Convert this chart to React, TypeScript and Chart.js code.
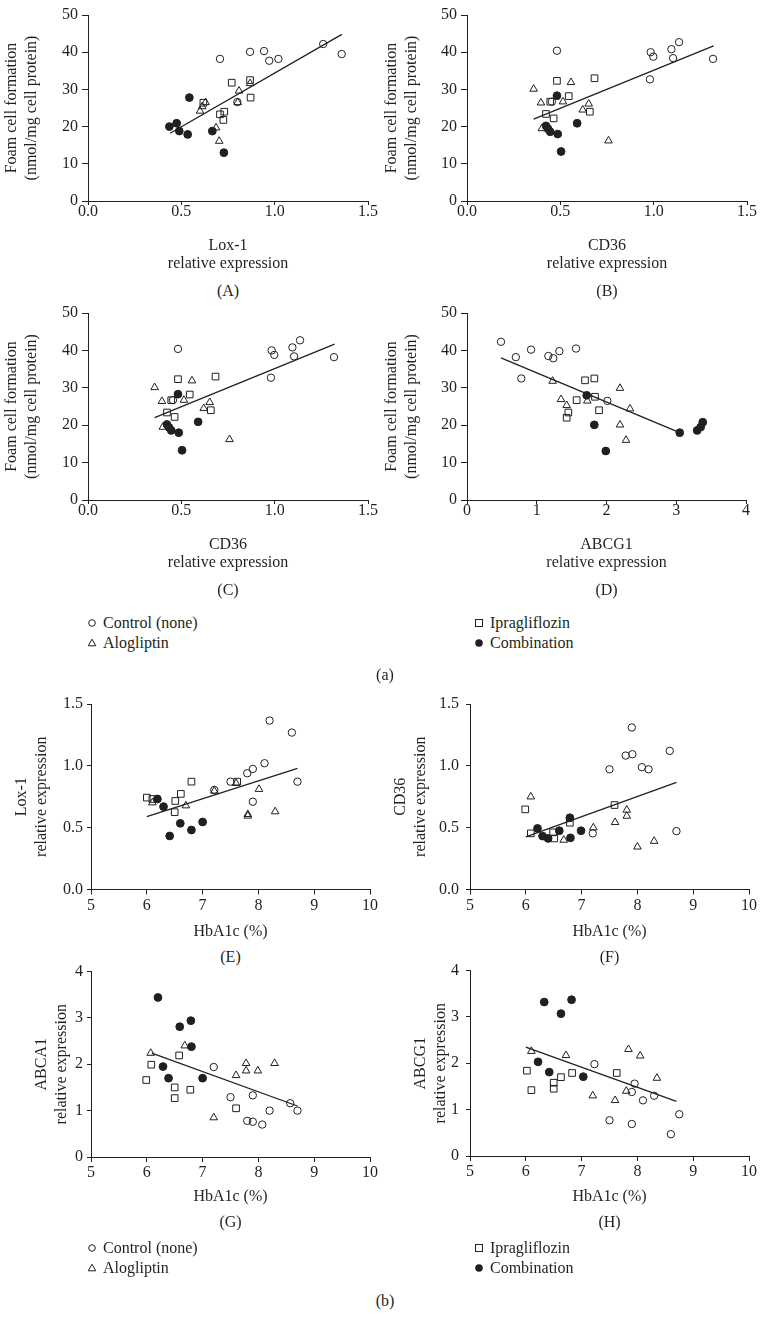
import React, { useEffect, useRef } from "react";
import { Chart, registerables } from "chart.js";
Chart.register(...registerables);

const FONT = "'Liberation Serif', 'Times New Roman', serif";
const INK = "#231f20";

type P = [number, number];

// ---- (A) Lox-1 vs foam cell formation
const ctrlA: P[] = [[0.707, 38.2], [0.868, 40.1], [0.943, 40.3], [0.971, 37.7], [1.02, 38.2], [1.26, 42.2], [1.359, 39.5], [0.80, 26.6]];
const ipraA: P[] = [[0.77, 31.8], [0.868, 32.5], [0.871, 27.8], [0.618, 26.4], [0.707, 23.3], [0.73, 24.0], [0.725, 21.8]];
const aloA: P[] = [[0.6, 24.2], [0.612, 25.4], [0.63, 26.5], [0.809, 29.6], [0.802, 26.5], [0.868, 31.6], [0.686, 19.7], [0.703, 16.1]];
const combA: P[] = [[0.436, 20.0], [0.475, 20.9], [0.489, 18.8], [0.543, 27.8], [0.534, 17.9], [0.666, 18.8], [0.728, 13.0]];
const lineA: P[] = [[0.44, 18.2], [1.36, 44.8]];

// ---- (B) and (C) CD36 vs foam cell formation
const ctrlB: P[] = [[0.482, 40.4], [0.984, 40.0], [0.998, 38.8], [0.98, 32.7], [1.095, 40.8], [1.136, 42.7], [1.104, 38.4], [1.318, 38.2], [0.455, 26.7]];
const ipraB: P[] = [[0.482, 32.3], [0.683, 33.0], [0.545, 28.2], [0.446, 26.7], [0.423, 23.4], [0.464, 22.2], [0.658, 24.0]];
const aloB: P[] = [[0.357, 30.1], [0.557, 31.9], [0.396, 26.4], [0.514, 26.7], [0.652, 26.1], [0.62, 24.5], [0.401, 19.5], [0.758, 16.2]];
const combB: P[] = [[0.482, 28.3], [0.423, 20.2], [0.434, 19.4], [0.446, 18.6], [0.486, 18.0], [0.59, 20.9], [0.504, 13.3]];
const lineB: P[] = [[0.357, 22.0], [1.321, 41.7]];

// ---- (D) ABCG1 vs foam cell formation
const ctrlD: P[] = [[0.487, 42.3], [0.70, 38.2], [0.779, 32.5], [0.918, 40.2], [1.166, 38.5], [1.237, 37.9], [1.324, 39.8], [1.563, 40.5], [2.012, 26.5]];
const ipraD: P[] = [[1.692, 32.0], [1.826, 32.5], [1.572, 26.7], [1.835, 27.6], [1.453, 23.4], [1.429, 22.0], [1.893, 24.0]];
const aloD: P[] = [[1.228, 31.8], [2.193, 29.9], [1.348, 26.9], [1.429, 25.3], [1.725, 26.5], [2.337, 24.4], [2.193, 20.1], [2.28, 16.0]];
const combD: P[] = [[1.716, 28.0], [1.825, 20.1], [1.99, 13.1], [3.05, 18.0], [3.3, 18.6], [3.35, 19.5], [3.38, 20.8]];
const lineD: P[] = [[0.487, 38.0], [3.05, 18.0]];

// ---- (E) HbA1c vs Lox-1
const ctrlE: P[] = [[8.2, 1.366], [8.6, 1.269], [8.11, 1.021], [7.9, 0.975], [7.8, 0.94], [7.5, 0.872], [8.7, 0.872], [7.9, 0.71], [7.21, 0.805]];
const ipraE: P[] = [[6.0, 0.743], [6.1, 0.732], [6.8, 0.872], [6.61, 0.773], [6.51, 0.716], [6.5, 0.625], [7.62, 0.872]];
const aloE: P[] = [[6.1, 0.702], [6.7, 0.678], [7.21, 0.797], [7.6, 0.859], [8.01, 0.811], [7.81, 0.608], [7.81, 0.595], [8.3, 0.63]];
const combE: P[] = [[6.19, 0.732], [6.3, 0.67], [6.41, 0.433], [6.6, 0.535], [6.8, 0.481], [7.0, 0.546]];
const lineE: P[] = [[6.0, 0.589], [8.7, 0.98]];

// ---- (F) HbA1c vs CD36
const ctrlF: P[] = [[7.9, 1.31], [7.79, 1.083], [7.91, 1.094], [8.58, 1.121], [7.5, 0.972], [8.08, 0.989], [8.2, 0.972], [8.7, 0.472], [7.2, 0.454]];
const ipraF: P[] = [[5.99, 0.648], [6.09, 0.454], [6.49, 0.462], [6.51, 0.413], [6.79, 0.54], [7.59, 0.683]];
const aloF: P[] = [[6.09, 0.75], [6.68, 0.4], [7.21, 0.5], [7.6, 0.543], [7.81, 0.643], [7.81, 0.594], [8.0, 0.345], [8.3, 0.391]];
const combF: P[] = [[6.21, 0.494], [6.3, 0.432], [6.4, 0.413], [6.6, 0.475], [6.79, 0.58], [6.8, 0.418], [6.99, 0.475]];
const lineF: P[] = [[6.0, 0.426], [8.7, 0.867]];

// ---- (G) HbA1c vs ABCA1
const ctrlG: P[] = [[7.2, 1.94], [7.5, 1.29], [7.8, 0.78], [7.9, 0.76], [7.9, 1.33], [8.07, 0.7], [8.2, 1.0], [8.57, 1.16], [8.7, 1.0]];
const ipraG: P[] = [[6.08, 1.99], [6.58, 2.19], [5.99, 1.66], [6.5, 1.5], [6.5, 1.27], [6.78, 1.45], [7.6, 1.05]];
const aloG: P[] = [[6.07, 2.24], [6.68, 2.4], [7.6, 1.76], [7.78, 2.02], [7.78, 1.86], [7.99, 1.86], [8.29, 2.02], [7.2, 0.85]];
const combG: P[] = [[6.2, 3.44], [6.59, 2.81], [6.79, 2.94], [6.8, 2.38], [6.29, 1.95], [6.39, 1.7], [7.0, 1.7]];
const lineG: P[] = [[6.09, 2.24], [8.7, 1.1]];

// ---- (H) HbA1c vs ABCG1
const ctrlH: P[] = [[7.23, 1.98], [7.95, 1.56], [7.9, 1.38], [7.5, 0.77], [7.9, 0.69], [8.1, 1.2], [8.3, 1.3], [8.6, 0.47], [8.75, 0.9]];
const ipraH: P[] = [[6.02, 1.84], [6.63, 1.7], [6.83, 1.79], [7.63, 1.79], [6.1, 1.42], [6.5, 1.58], [6.5, 1.45]];
const aloH: P[] = [[6.1, 2.26], [6.72, 2.17], [7.84, 2.3], [8.05, 2.16], [8.35, 1.68], [7.2, 1.3], [7.6, 1.2], [7.8, 1.4]];
const combH: P[] = [[6.33, 3.32], [6.82, 3.37], [6.63, 3.07], [6.22, 2.03], [6.42, 1.81], [7.03, 1.71]];
const lineH: P[] = [[6.0, 2.35], [8.7, 1.18]];

const groupNames = ["Control (none)", "Alogliptin", "Ipragliflozin", "Combination"];
const foamTitle = ["Foam cell formation", "(nmol/mg cell protein)"];

interface PanelCfg {
  left: number; top: number; w: number;
  plotLeft: number; plotTop: number; plotRight: number; plotBottom: number;
  xMin: number; xMax: number; xStep: number; xDec: number;
  yMin: number; yMax: number; yStep: number; yDec: number;
  xTitle: string[]; yTitle: string[];
  xTitleFirst: number; yTitleFirst: number;
  xTickLen: number; xTickPad: number; yTickLen: number; yTickPad: number;
  ctrl: P[]; ipra: P[]; alo: P[]; comb: P[]; line: P[];
  letter: string; letterY: number;
}

const XLH = 18;
const YLH = 20;

function panelHeight(c: PanelCfg) {
  return c.xTitleFirst + XLH * (c.xTitle.length - 1) + XLH / 2 + 3 - c.top;
}

const pts = (a: P[]) => a.map(([x, y]) => ({ x, y }));

function Panel({ c }: { c: PanelCfg }) {
  const ref = useRef<HTMLCanvasElement>(null);
  const h = panelHeight(c);
  useEffect(() => {
    const xAxisH = c.top + h - c.plotBottom;
    const yAxisW = c.plotLeft - c.left;
    const xTitlePadBottom = c.top + h - (c.xTitleFirst + XLH * (c.xTitle.length - 1) + XLH / 2);
    const yTitlePadTop = c.yTitleFirst - c.left - YLH / 2;
    const hollow = { borderColor: INK, backgroundColor: "rgba(0,0,0,0)", borderWidth: 1 };
    const chart = new Chart(ref.current!, {
      type: "scatter",
      data: {
        datasets: [
          { type: "line", data: pts(c.line), borderColor: INK, borderWidth: 1.3, pointRadius: 0, fill: false, showLine: true } as any,
          { data: pts(c.ctrl), pointStyle: "circle", pointRadius: 3.7, ...hollow },
          { data: pts(c.alo), pointStyle: "triangle", pointRadius: 4.4, ...hollow },
          { data: pts(c.ipra), pointStyle: "rect", pointRadius: 4.7, ...hollow },
          { data: pts(c.comb), pointStyle: "circle", pointRadius: 3.9, borderColor: INK, backgroundColor: INK, borderWidth: 1 },
        ],
      },
      options: {
        animation: false,
        responsive: false,
        devicePixelRatio: 1,
        layout: { padding: { left: 0, top: c.plotTop - c.top, right: c.left + c.w - c.plotRight, bottom: 0 } },
        plugins: { legend: { display: false }, tooltip: { enabled: false } },
        elements: { point: { hoverRadius: 4 } },
        scales: {
          x: {
            type: "linear", min: c.xMin, max: c.xMax,
            ticks: {
              stepSize: c.xStep, autoSkip: false, maxRotation: 0, color: INK, padding: c.xTickPad,
              font: { family: FONT, size: 16, lineHeight: 1 },
              callback: (v: any) => Number(v).toFixed(c.xDec),
            },
            grid: { display: true, drawOnChartArea: false, drawTicks: true, tickLength: c.xTickLen, color: INK },
            border: { display: true, color: INK, width: 1 },
            title: {
              display: true, text: c.xTitle, color: INK,
              font: { family: FONT, size: 16, lineHeight: XLH / 16 },
              padding: { top: 0, bottom: xTitlePadBottom },
            },
            afterFit: (s: any) => { s.height = xAxisH; s.paddingLeft = 0; s.paddingRight = 0; },
          },
          y: {
            type: "linear", min: c.yMin, max: c.yMax,
            ticks: {
              stepSize: c.yStep, autoSkip: false, color: INK, padding: c.yTickPad,
              font: { family: FONT, size: 16, lineHeight: 1 },
              callback: (v: any) => Number(v).toFixed(c.yDec),
            },
            grid: { display: true, drawOnChartArea: false, drawTicks: true, tickLength: c.yTickLen, color: INK },
            border: { display: true, color: INK, width: 1 },
            title: {
              display: true, text: c.yTitle, color: INK,
              font: { family: FONT, size: 16, lineHeight: YLH / 16 },
              padding: { top: yTitlePadTop, bottom: 0 },
            },
            afterFit: (s: any) => { s.width = yAxisW; s.paddingTop = 0; s.paddingBottom = 0; },
          },
        },
      } as any,
    });
    return () => chart.destroy();
  }, []);
  return (
    <>
      <canvas ref={ref} width={c.w} height={h}
        style={{ position: "absolute", left: c.left, top: c.top, width: c.w, height: h }} />
      <Label x={(c.plotLeft + c.plotRight) / 2} y={c.letterY} text={c.letter} />
    </>
  );
}

function Label({ x, y, text }: { x: number; y: number; text: string }) {
  return (
    <div style={{
      position: "absolute", left: x, top: y, transform: "translate(-50%, -50%)",
      font: `16px ${FONT}`, color: INK, whiteSpace: "nowrap", lineHeight: 1,
    }}>{text}</div>
  );
}

function Sym({ kind }: { kind: number }) {
  return (
    <svg width={12} height={12} viewBox="0 0 12 12" style={{ display: "block" }}>
      {kind === 0 && <circle cx={6} cy={6} r={3.3} fill="none" stroke={INK} strokeWidth={1} />}
      {kind === 1 && <polygon points="6,2.2 9.8,8.8 2.2,8.8" fill="none" stroke={INK} strokeWidth={1} />}
      {kind === 2 && <rect x={2.5} y={2.5} width={7} height={7} fill="none" stroke={INK} strokeWidth={1} />}
      {kind === 3 && <circle cx={6} cy={6} r={3.8} fill={INK} />}
    </svg>
  );
}

function LegendItem({ x, y, kind }: { x: number; y: number; kind: number }) {
  return (
    <div style={{ position: "absolute", left: x - 6, top: y - 6, display: "flex", alignItems: "center", height: 12 }}>
      <Sym kind={kind} />
      <span style={{ font: `16px ${FONT}`, color: INK, marginLeft: 5, whiteSpace: "nowrap", lineHeight: 1 }}>{groupNames[kind]}</span>
    </div>
  );
}

function Legend({ y1, y2, capY, cap }: { y1: number; y2: number; capY: number; cap: string }) {
  return (
    <>
      <LegendItem x={92} y={y1} kind={0} />
      <LegendItem x={92} y={y2} kind={1} />
      <LegendItem x={479} y={y1} kind={2} />
      <LegendItem x={479} y={y2} kind={3} />
      <Label x={385} y={capY} text={cap} />
    </>
  );
}

const topA = { xTickLen: 4, xTickPad: -1, yTickLen: 6, yTickPad: 4, yMin: 0, yMax: 50, yStep: 10, yDec: 0 };
const botB = { xMin: 5, xMax: 10, xStep: 1, xDec: 0, xTickLen: 5, xTickPad: 3, yTickLen: 4, xTitle: ["HbA1c (%)"] };

const panels: PanelCfg[] = [
  { ...topA, left: 0, top: 0, w: 386, plotLeft: 88, plotTop: 15, plotRight: 368, plotBottom: 201,
    xMin: 0, xMax: 1.5, xStep: 0.5, xDec: 1, xTitle: ["Lox-1", "relative expression"], yTitle: foamTitle,
    xTitleFirst: 246, yTitleFirst: 12, ctrl: ctrlA, ipra: ipraA, alo: aloA, comb: combA, line: lineA, letter: "(A)", letterY: 291 },
  { ...topA, left: 379, top: 0, w: 390, plotLeft: 467, plotTop: 15, plotRight: 747, plotBottom: 201,
    xMin: 0, xMax: 1.5, xStep: 0.5, xDec: 1, xTitle: ["CD36", "relative expression"], yTitle: foamTitle,
    xTitleFirst: 246, yTitleFirst: 392, ctrl: ctrlB, ipra: ipraB, alo: aloB, comb: combB, line: lineB, letter: "(B)", letterY: 291 },
  { ...topA, left: 0, top: 298, w: 386, plotLeft: 88, plotTop: 313, plotRight: 368, plotBottom: 500,
    xMin: 0, xMax: 1.5, xStep: 0.5, xDec: 1, xTitle: ["CD36", "relative expression"], yTitle: foamTitle,
    xTitleFirst: 545, yTitleFirst: 12, ctrl: ctrlB, ipra: ipraB, alo: aloB, comb: combB, line: lineB, letter: "(C)", letterY: 590 },
  { ...topA, left: 379, top: 298, w: 390, plotLeft: 467, plotTop: 313, plotRight: 746, plotBottom: 500,
    xMin: 0, xMax: 4, xStep: 1, xDec: 0, xTitle: ["ABCG1", "relative expression"], yTitle: foamTitle,
    xTitleFirst: 545, yTitleFirst: 392, ctrl: ctrlD, ipra: ipraD, alo: aloD, comb: combD, line: lineD, letter: "(D)", letterY: 590 },
  { ...botB, left: 0, top: 689, w: 386, plotLeft: 91, plotTop: 704, plotRight: 370, plotBottom: 889.5,
    yMin: 0, yMax: 1.5, yStep: 0.5, yDec: 1, yTickPad: 4, yTitle: ["Lox-1", "relative expression"],
    xTitleFirst: 932, yTitleFirst: 22, ctrl: ctrlE, ipra: ipraE, alo: aloE, comb: combE, line: lineE, letter: "(E)", letterY: 957 },
  { ...botB, left: 379, top: 689, w: 390, plotLeft: 470, plotTop: 704, plotRight: 749, plotBottom: 889.5,
    yMin: 0, yMax: 1.5, yStep: 0.5, yDec: 1, yTickPad: 7, yTitle: ["CD36", "relative expression"],
    xTitleFirst: 932, yTitleFirst: 401, ctrl: ctrlF, ipra: ipraF, alo: aloF, comb: combF, line: lineF, letter: "(F)", letterY: 957 },
  { ...botB, left: 0, top: 955, w: 386, plotLeft: 91, plotTop: 971.5, plotRight: 370, plotBottom: 1157,
    yMin: 0, yMax: 4, yStep: 1, yDec: 0, yTickPad: 4, yTitle: ["ABCA1", "relative expression"],
    xTitleFirst: 1197, yTitleFirst: 42, ctrl: ctrlG, ipra: ipraG, alo: aloG, comb: combG, line: lineG, letter: "(G)", letterY: 1222 },
  { ...botB, left: 379, top: 955, w: 390, plotLeft: 470, plotTop: 970.5, plotRight: 749, plotBottom: 1156,
    yMin: 0, yMax: 4, yStep: 1, yDec: 0, yTickPad: 7, yTitle: ["ABCG1", "relative expression"],
    xTitleFirst: 1197, yTitleFirst: 421, ctrl: ctrlH, ipra: ipraH, alo: aloH, comb: combH, line: lineH, letter: "(H)", letterY: 1222 },
] as PanelCfg[];

export default function App() {
  return (
    <div style={{ position: "absolute", left: 0, top: 0, width: 769, height: 1332, background: "#fff", overflow: "hidden" }}>
      {panels.map((c, i) => <Panel key={i} c={c} />)}
      <Legend y1={623} y2={643} capY={675} cap="(a)" />
      <Legend y1={1248} y2={1268} capY={1301} cap="(b)" />
    </div>
  );
}
